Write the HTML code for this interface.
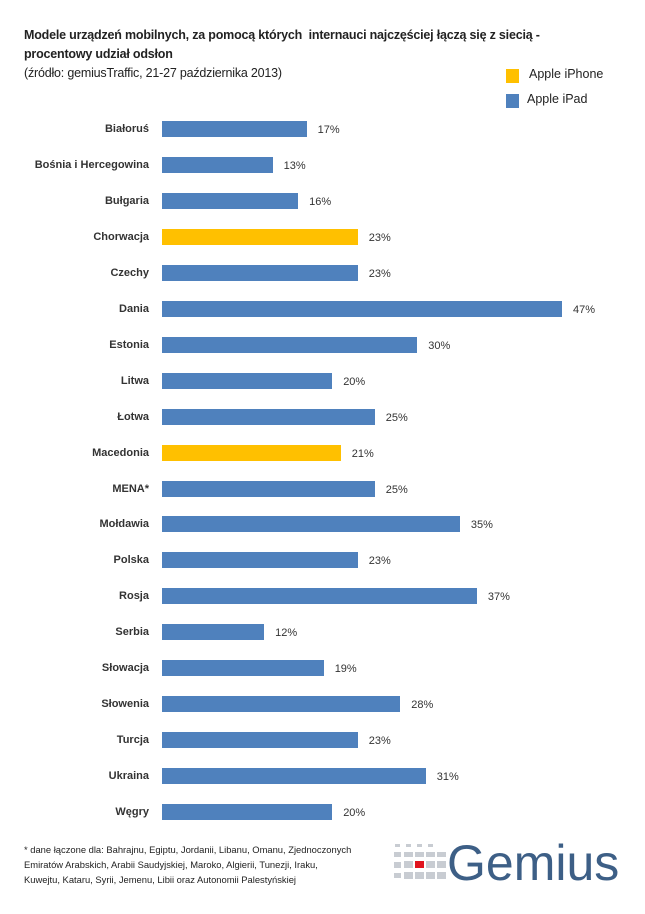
<!DOCTYPE html>
<html><head><meta charset="utf-8"><style>
body{margin:0;width:645px;height:914px;background:#fff;font-family:"Liberation Sans",sans-serif;position:relative;overflow:hidden}
.t{position:absolute;white-space:nowrap}
.lab{position:absolute;right:496px;font-size:11px;font-weight:bold;color:#333;text-align:right;white-space:nowrap;line-height:13px}
.bar{position:absolute;left:162px;height:16px;background:#4f81bd}
.val{position:absolute;font-size:11px;color:#333;line-height:13px}
</style></head><body>
<div class="t" style="left:24px;top:28px;font-size:12.5px;font-weight:bold;color:#222;letter-spacing:-0.2px">Modele urządzeń mobilnych, za pomocą których&nbsp; internauci najczęściej łączą się z siecią -</div>
<div class="t" style="left:24px;top:47px;font-size:12.5px;font-weight:bold;color:#222;letter-spacing:-0.2px">procentowy udział odsłon</div>
<div class="t" style="left:24px;top:66px;font-size:12.5px;color:#222;letter-spacing:-0.2px">(źródło: gemiusTraffic, 21-27 października 2013)</div>
<div style="position:absolute;left:506px;top:69px;width:13px;height:14px;background:#ffc000"></div>
<div class="t" style="left:529px;top:67px;font-size:12.5px;color:#222">Apple iPhone</div>
<div style="position:absolute;left:506px;top:94px;width:13px;height:14px;background:#4f81bd"></div>
<div class="t" style="left:527px;top:92px;font-size:12.5px;color:#222">Apple iPad</div>
<div id="c"></div>
<div class="t" style="left:24px;top:842px;font-size:9.4px;color:#222;line-height:15px">* dane łączone dla: Bahrajnu, Egiptu, Jordanii, Libanu, Omanu, Zjednoczonych<br>Emiratów Arabskich, Arabii Saudyjskiej, Maroko, Algierii, Tunezji, Iraku,<br>Kuwejtu, Kataru, Syrii, Jemenu, Libii oraz Autonomii Palestyńskiej</div>
<svg style="position:absolute;left:392px;top:842px" width="60" height="44">
<g fill="#c8ccd2">
<rect x="3" y="2" width="5" height="3"/><rect x="14" y="2" width="5" height="3"/><rect x="25" y="2" width="5" height="3"/><rect x="36" y="2" width="5" height="3"/>
<rect x="2" y="10" width="7" height="5"/><rect x="12" y="10" width="9" height="5"/><rect x="23" y="10" width="9" height="5"/><rect x="34" y="10" width="9" height="5"/><rect x="45" y="10" width="9" height="5"/>
<rect x="2" y="20" width="7" height="6"/><rect x="12" y="19" width="9" height="7"/><rect x="34" y="19" width="9" height="7"/><rect x="45" y="19" width="9" height="7"/>
<rect x="2" y="31" width="7" height="5"/><rect x="12" y="30" width="9" height="7"/><rect x="23" y="30" width="9" height="7"/><rect x="34" y="30" width="9" height="7"/><rect x="45" y="30" width="9" height="7"/>
</g>
<rect x="23" y="19" width="9" height="7" fill="#e0141e"/>
</svg>
<div class="t" style="left:447px;top:834px;font-size:50px;color:#3d5f86;letter-spacing:0px">Gemius</div>
<script>
var d=[["Białoruś",17],["Bośnia i Hercegowina",13],["Bułgaria",16],["Chorwacja",23,1],["Czechy",23],["Dania",47],["Estonia",30],["Litwa",20],["Łotwa",25],["Macedonia",21,1],["MENA*",25],["Mołdawia",35],["Polska",23],["Rosja",37],["Serbia",12],["Słowacja",19],["Słowenia",28],["Turcja",23],["Ukraina",31],["Węgry",20]];
var h="";
d.forEach(function(r,i){var cy=129+i*35.95;var w=r[1]*8.51;
h+='<div class="lab" style="top:'+(cy-6)+'px">'+r[0]+'</div>';
h+='<div class="bar" style="top:'+(cy-8)+'px;width:'+w+'px;'+(r[2]?'background:#ffc000':'')+'"></div>';
h+='<div class="val" style="top:'+(cy-5)+'px;left:'+(162+w+11)+'px">'+r[1]+'%</div>';});
document.getElementById("c").innerHTML=h;
</script>
</body></html>
